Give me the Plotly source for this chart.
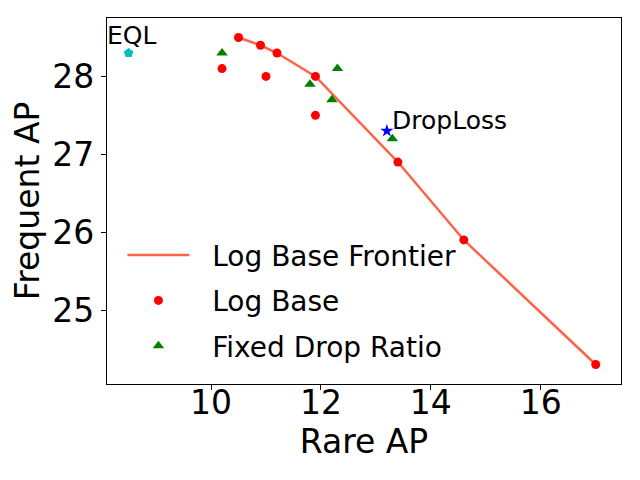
import plotly.graph_objects as go

# Rare AP / Frequent AP points
frontier_rare = [10.5, 10.9, 11.2, 11.9, 13.4, 14.6, 17.0]
frontier_freq = [28.5, 28.4, 28.3, 28.0, 26.9, 25.9, 24.3]

logbase_rare = [10.2, 10.5, 10.9, 11.0, 11.2, 11.9, 11.9, 13.4, 14.6, 17.0]
logbase_freq = [28.1, 28.5, 28.4, 28.0, 28.3, 28.0, 27.5, 26.9, 25.9, 24.3]

fixed_rare = [10.2, 11.8, 12.2, 12.3, 13.3]
fixed_freq = [28.3, 27.9, 27.7, 28.1, 27.2]

eql_rare, eql_freq = [8.5], [28.3]
droploss_rare, droploss_freq = [13.2], [27.3]

FONT = "DejaVu Sans"

fig = go.Figure()
fig.add_trace(go.Scatter(x=frontier_rare, y=frontier_freq, mode="lines",
                         name="&nbsp;&nbsp;Log Base Frontier", legendgroup="a",
                         line=dict(color="tomato", width=2.5)))
fig.add_trace(go.Scatter(x=logbase_rare, y=logbase_freq, mode="markers",
                         name="&nbsp;&nbsp;Log Base", legendgroup="b",
                         marker=dict(color="red", size=9, symbol="circle")))
fig.add_trace(go.Scatter(x=fixed_rare, y=fixed_freq, mode="markers",
                         name="&nbsp;&nbsp;Fixed Drop Ratio", legendgroup="c",
                         marker=dict(color="green", size=10, symbol="triangle-up")))
fig.add_trace(go.Scatter(x=eql_rare, y=eql_freq, mode="markers", showlegend=False,
                         marker=dict(color="#00BFBF", size=10, symbol="pentagon")))
fig.add_trace(go.Scatter(x=droploss_rare, y=droploss_freq, mode="markers", showlegend=False,
                         marker=dict(color="blue", size=10, symbol="star")))

fig.add_annotation(x=8.15, y=28.52, xshift=-4, text="EQL", showarrow=False,
                   xanchor="left", yanchor="middle", font=dict(size=25, color="black"))
fig.add_annotation(x=13.25, y=27.44, text="DropLoss", showarrow=False,
                   xanchor="left", yanchor="middle", font=dict(size=25, color="black"))

axis_common = dict(showgrid=False, zeroline=False, showline=True, mirror=True,
                   linecolor="black", linewidth=1.2, ticks="outside", ticklen=5,
                   tickcolor="black", tickfont=dict(size=33, color="black"),
                   automargin=False)

fig.update_xaxes(range=[8.107, 17.46], tickvals=[10, 12, 14, 16], ticklabelstandoff=-16,
                 title=dict(text="Rare AP", font=dict(size=33, color="black"), standoff=6),
                 **axis_common)
fig.update_yaxes(range=[24.05, 28.75], tickvals=[25, 26, 27, 28],
                 title=dict(text="Frequent AP", font=dict(size=33, color="black"), standoff=10),
                 **axis_common)

# page body has an 8px margin, so the figure is 8px smaller and drawn from (8, 8)
fig.update_layout(
    width=632, height=472,
    margin=dict(l=99, r=19, t=10, b=96),
    paper_bgcolor="white", plot_bgcolor="white",
    font=dict(family=FONT, color="black"),
    legend=dict(x=0.03, y=0.42, xanchor="left", yanchor="top",
                font=dict(size=28), itemwidth=62, tracegroupgap=6,
                traceorder="grouped", bgcolor="rgba(0,0,0,0)"),
)

fig.write_html("out.html")
